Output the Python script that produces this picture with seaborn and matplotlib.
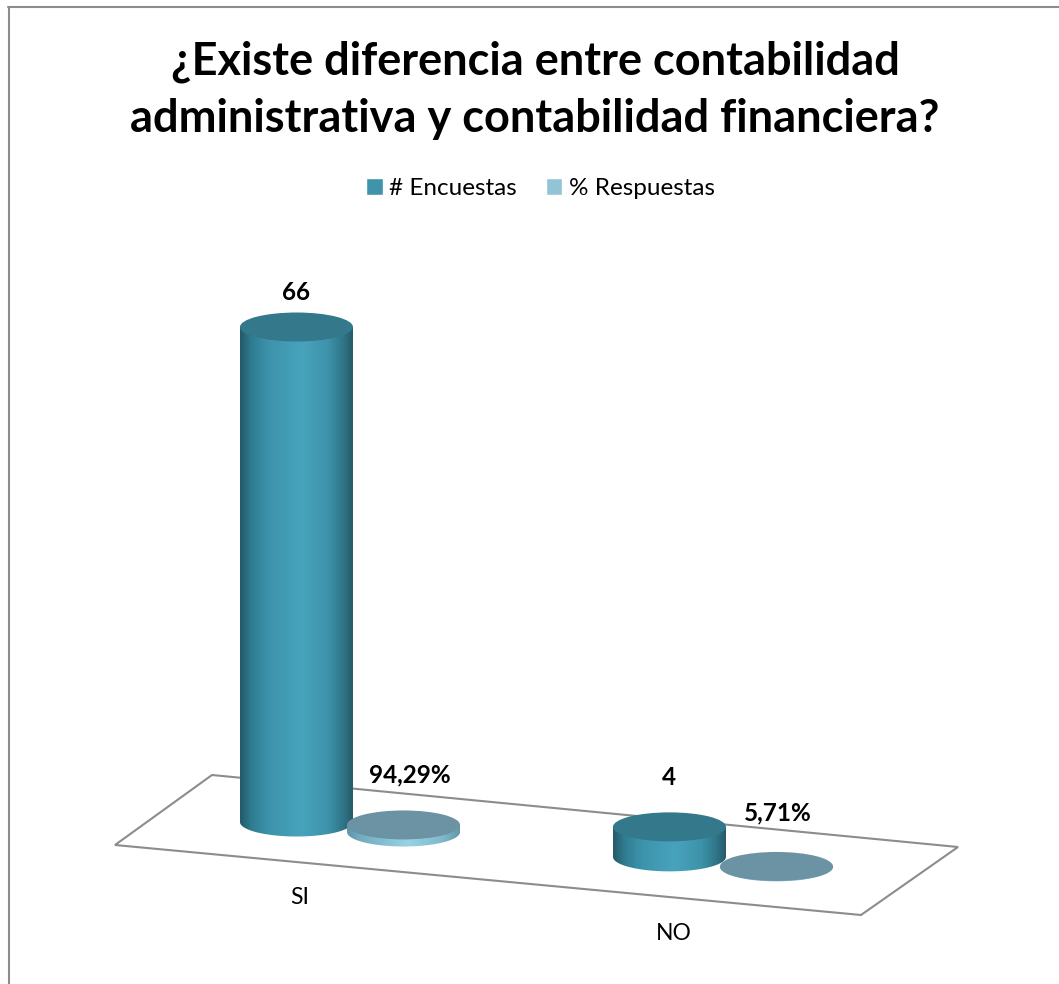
import numpy as np
import pandas as pd
import matplotlib
matplotlib.use("Agg")
import matplotlib.pyplot as plt
import seaborn as sns
from matplotlib.colors import LinearSegmentedColormap
from matplotlib.lines import Line2D
from matplotlib.patches import Ellipse, PathPatch, Polygon
from matplotlib.path import Path

# ---- data -------------------------------------------------------------
categories = ["SI", "NO"]
encuestas = [66, 4]
respuestas_pct = [94.29, 5.71]
series_names = ["# Encuestas", "% Respuestas"]
title_text = "¿Existe diferencia entre contabilidad\nadministrativa y contabilidad financiera?"
value_labels = ["66", "4", "94,29%", "5,71%"]

# ---- layout (pixels of the 1059x984 picture) ---------------------------
W, H = 1059, 984
PX_PER_UNIT = 7.5
PX_PER_CAT = 373.0
CAT0_PX = 350.0
BAR_PX = 113.0
CAP_PX = 29.0
FONT = "Lato"

sns.set_theme(style="white")
plt.rcParams["font.family"] = [FONT, "DejaVu Sans"]
plt.rcParams["text.color"] = "black"

def x_d(px):
    return (px - CAT0_PX) / PX_PER_CAT

def y_d(py):
    return (H - py) / PX_PER_UNIT

def base_px(cx_px):
    return 822.0 + 0.0935 * (cx_px - 296.5)

df = pd.DataFrame({
    "cat": categories * 2,
    "serie": [series_names[0]] * 2 + [series_names[1]] * 2,
    "val": list(encuestas) + [v / 100 for v in respuestas_pct],
})

fig = plt.figure(figsize=(W / 100, H / 100), dpi=100, facecolor="white")
ax = fig.add_axes([0, 0, 1, 1])
sns.barplot(data=df, x="cat", y="val", hue="serie", hue_order=series_names,
            palette=["#3f93ab", "#93c4d6"], width=0.574, gap=0, errorbar=None,
            saturation=1, ax=ax)

ax.set_xlim(x_d(0), x_d(W))
ax.set_ylim(0, H / PX_PER_UNIT)

# floor
floor_px = [(212, 775), (958, 847), (861, 915), (115, 845)]
ax.add_patch(Polygon([(x_d(a), y_d(b)) for a, b in floor_px], closed=True,
                     facecolor="white", edgecolor="#8c8c8c", linewidth=1.5, zorder=1))

cmap_a = LinearSegmentedColormap.from_list("a", [
    (0.0, "#245a69"), (0.10, "#2f7c90"), (0.25, "#3d93ab"), (0.55, "#47a3bc"),
    (0.78, "#3d93aa"), (0.92, "#2f7487"), (1.0, "#265a69")])
cmap_b = LinearSegmentedColormap.from_list("b", [
    (0.0, "#5f95a8"), (0.12, "#74adc1"), (0.55, "#97d2e5"),
    (0.85, "#7fb8cb"), (1.0, "#6497a9")])
tops = {0: "#33788b", 1: "#6c93a3"}

n_cat = len(categories)
bars = [b for c in ax.containers for b in c]
order = sorted(range(len(bars)), key=lambda i: bars[i].get_x())
label_offset_px = {0: (0, 34), 1: (-1, 49), 2: (6, 50), 3: (1, 54)}

w_d = BAR_PX / PX_PER_CAT
cap_d = CAP_PX / PX_PER_UNIT
for rank, i in enumerate(order):
    bar = bars[i]
    s = i // n_cat
    val = bar.get_height()
    cx = bar.get_x() + bar.get_width() / 2
    cx_px = cx * PX_PER_CAT + CAT0_PX
    y0 = y_d(base_px(cx_px))
    z = 3 + rank
    x0 = cx - w_d / 2
    bar.set_x(x0)
    bar.set_width(w_d)
    bar.set_y(y0)
    bar.set_zorder(z)

    th = np.linspace(0, np.pi, 60)
    low = np.column_stack([cx + w_d / 2 * np.cos(th), y0 - cap_d / 2 * np.sin(th)])
    pts = np.vstack([[x0, y0 + val], [x0 + w_d, y0 + val], low, [x0, y0 + val]])
    clip = PathPatch(Path(pts), transform=ax.transData, facecolor="none", edgecolor="none")
    ax.add_patch(clip)
    bar.set_clip_path(clip)

    grad = np.linspace(0, 1, 256).reshape(1, -1)
    im = ax.imshow(grad, cmap=cmap_a if s == 0 else cmap_b, aspect="auto", zorder=z,
                   extent=(x0, x0 + w_d, y0 - cap_d, y0 + val), interpolation="bilinear")
    im.set_clip_path(clip)
    ax.add_patch(Ellipse((cx, y0 + val), w_d, cap_d, facecolor=tops[s],
                         edgecolor="none", zorder=z + 0.1))

    dx, dy = label_offset_px[i]
    ax.text(cx + dx / PX_PER_CAT, y0 + val + dy / PX_PER_UNIT, value_labels[i],
            ha="center", va="center", fontsize=17.5, fontweight="bold",
            color="black", zorder=20)

ax.set_xlim(x_d(0), x_d(W))
ax.set_ylim(0, H / PX_PER_UNIT)

# category labels sit under the slanted floor
cat_label_px = [(300, 897), (674, 933)]
for name, (px, py) in zip(categories, cat_label_px):
    ax.text(x_d(px), y_d(py), name, ha="center", va="center", fontsize=16.5, color="black")

ax.set_xlabel("")
ax.set_ylabel("")
ax.set_axis_off()

sns.move_legend(ax, "center", bbox_to_anchor=(540.5 / W, 1 - 188.5 / H), ncol=2, frameon=False,
                title=None, fontsize=17.5, labelcolor="black",
                handlelength=0.68, handleheight=0.68,
                handletextpad=0.25, columnspacing=1.2, borderpad=0, borderaxespad=0)

fig.text(535 / W, 1 - 90 / H, title_text, ha="center", va="center", fontsize=32.5,
         fontweight="bold", color="black", linespacing=1.45)

# chart-area frame: only top and left edges are inside the crop
fig.add_artist(Line2D([8.5 / W, 8.5 / W], [0, 1 - 6.5 / H], color="#8c8c8c", lw=1.5))
fig.add_artist(Line2D([8 / W, 1], [1 - 6.5 / H, 1 - 6.5 / H], color="#8c8c8c", lw=1.5))

fig.savefig("out.png", dpi=100, facecolor="white")
